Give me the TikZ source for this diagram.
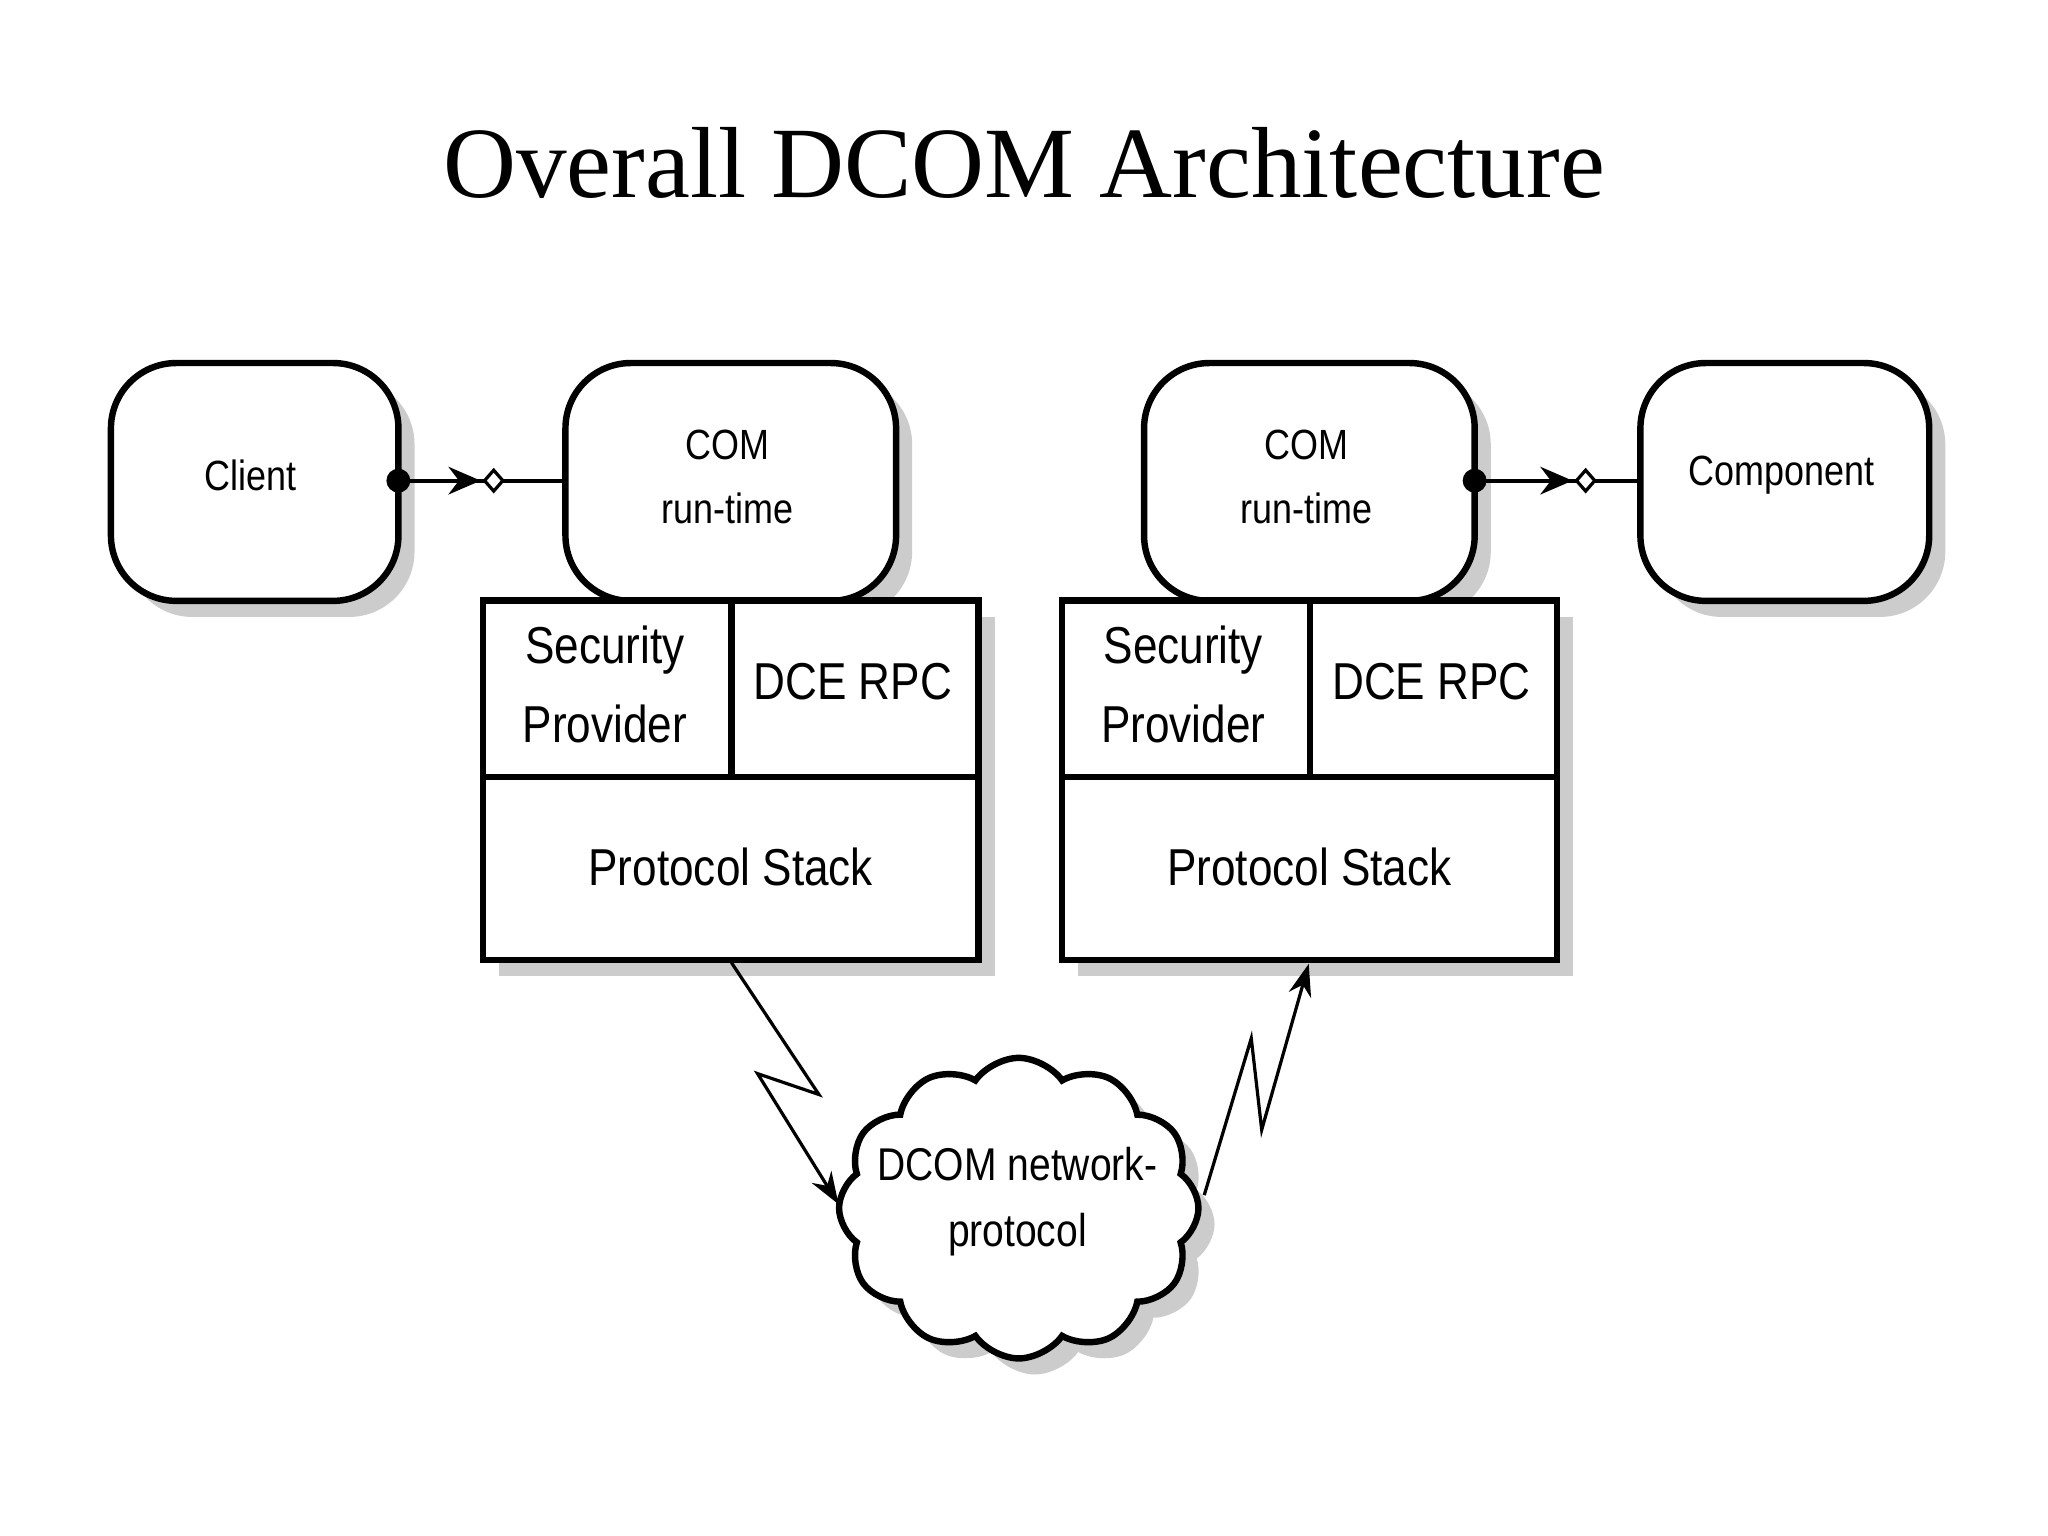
\documentclass[tikz,border=0pt]{standalone}
\usepackage{fontspec}
\setmainfont{Liberation Serif}
\newfontfamily\lsans{Liberation Sans}
\usetikzlibrary{shapes.symbols,shadows,arrows.meta}
\begin{document}
\begin{tikzpicture}[x=0.01cm,y=-0.01cm,
  sh/.style={drop shadow={shadow xshift=3.5pt,shadow yshift=-3.5pt,fill=black!40,opacity=0.5}},
  rbox/.style={draw,line width=1.4pt,rounded corners=0.5cm,fill=white,sh},
  sbox/.style={draw,line width=1.4pt,fill=white,sh},
  lbl/.style={font=\lsans\fontsize{9.2}{14}\selectfont,xscale=0.85,align=center},
  big/.style={font=\lsans\fontsize{11.3}{17}\selectfont,xscale=0.85,align=center},
  con/.style={line width=0.9pt},
  bolt/.style={line width=0.7pt,-{Stealth[length=7pt,width=5pt]}}]
\useasboundingbox (0,0) rectangle (1568,1176);
\node[font=\fontsize{22}{26}\selectfont] (title) at (784,125) {Overall DCOM Architecture};
% left side
\node[rbox,minimum width=2.2cm,minimum height=1.82cm] (client) at (195,369) {};
\node[lbl] at (192,364) {Client};
\node[rbox,minimum width=2.53cm,minimum height=1.82cm] (com1) at (559.5,369) {};
\node[lbl] at (557,365) {COM\\run-time};
\node[sbox,minimum width=3.79cm,minimum height=2.75cm] (st1) at (559.5,597.5) {};
\draw[line width=1.4pt] (370,595) -- (749,595) (560,460) -- (560,595);
\node[big] (sp1) at (463,524) {Security\\Provider};
\node[big] (dce1) at (653,522) {DCE RPC};
\node[big] (ps1) at (559.5,664) {Protocol Stack};
% right side
\node[rbox,minimum width=2.53cm,minimum height=1.82cm] (com2) at (1002.5,369) {};
\node[lbl] at (1000,365) {COM\\run-time};
\node[rbox,minimum width=2.21cm,minimum height=1.82cm] (comp) at (1366.5,369) {};
\node[lbl] at (1364,364) {Component};
\node[sbox,minimum width=3.79cm,minimum height=2.75cm] (st2) at (1002.5,597.5) {};
\draw[line width=1.4pt] (813,595) -- (1192,595) (1003,460) -- (1003,595);
\node[big] (sp2) at (906,524) {Security\\Provider};
\node[big] (dce2) at (1096,522) {DCE RPC};
\node[big] (ps2) at (1002.5,664) {Protocol Stack};
% connectors
\coordinate (a1) at (305,368); \coordinate (b1) at (433,368);
\draw[con] (a1) -- (b1);
\fill (a1) circle (2.6pt);
\draw[con,-{Stealth[length=7pt,width=6pt]}] (340,368) -- (368,368);
\draw[line width=0.7pt,fill=white] (371,368) -- (378,360) -- (385,368) -- (378,376) -- cycle;
\coordinate (a2) at (1129,368); \coordinate (b2) at (1256,368);
\draw[con] (a2) -- (b2);
\fill (a2) circle (2.6pt);
\draw[con,-{Stealth[length=7pt,width=6pt]}] (1164,368) -- (1204,368);
\draw[line width=0.7pt,fill=white] (1207,368) -- (1214,360) -- (1221,368) -- (1214,376) -- cycle;
% cloud
\node[cloud,draw,line width=1.4pt,fill=white,cloud puffs=12,cloud puff arc=110,aspect=1.15,minimum width=2.75cm,minimum height=2.3cm,sh] (cl) at (780,925) {};
\node[lbl,font=\lsans\fontsize{10}{14.5}\selectfont] at (779,920) {DCOM network-\\protocol};
\coordinate (l0) at (560,737);
\draw[bolt] (l0) -- (627,838) -- (580,822) -- (642,922);
\coordinate (r0) at (922,915);
\draw[bolt] (r0) -- (958,795) -- (966,865) -- (1002,738);
\end{tikzpicture}
\end{document}
